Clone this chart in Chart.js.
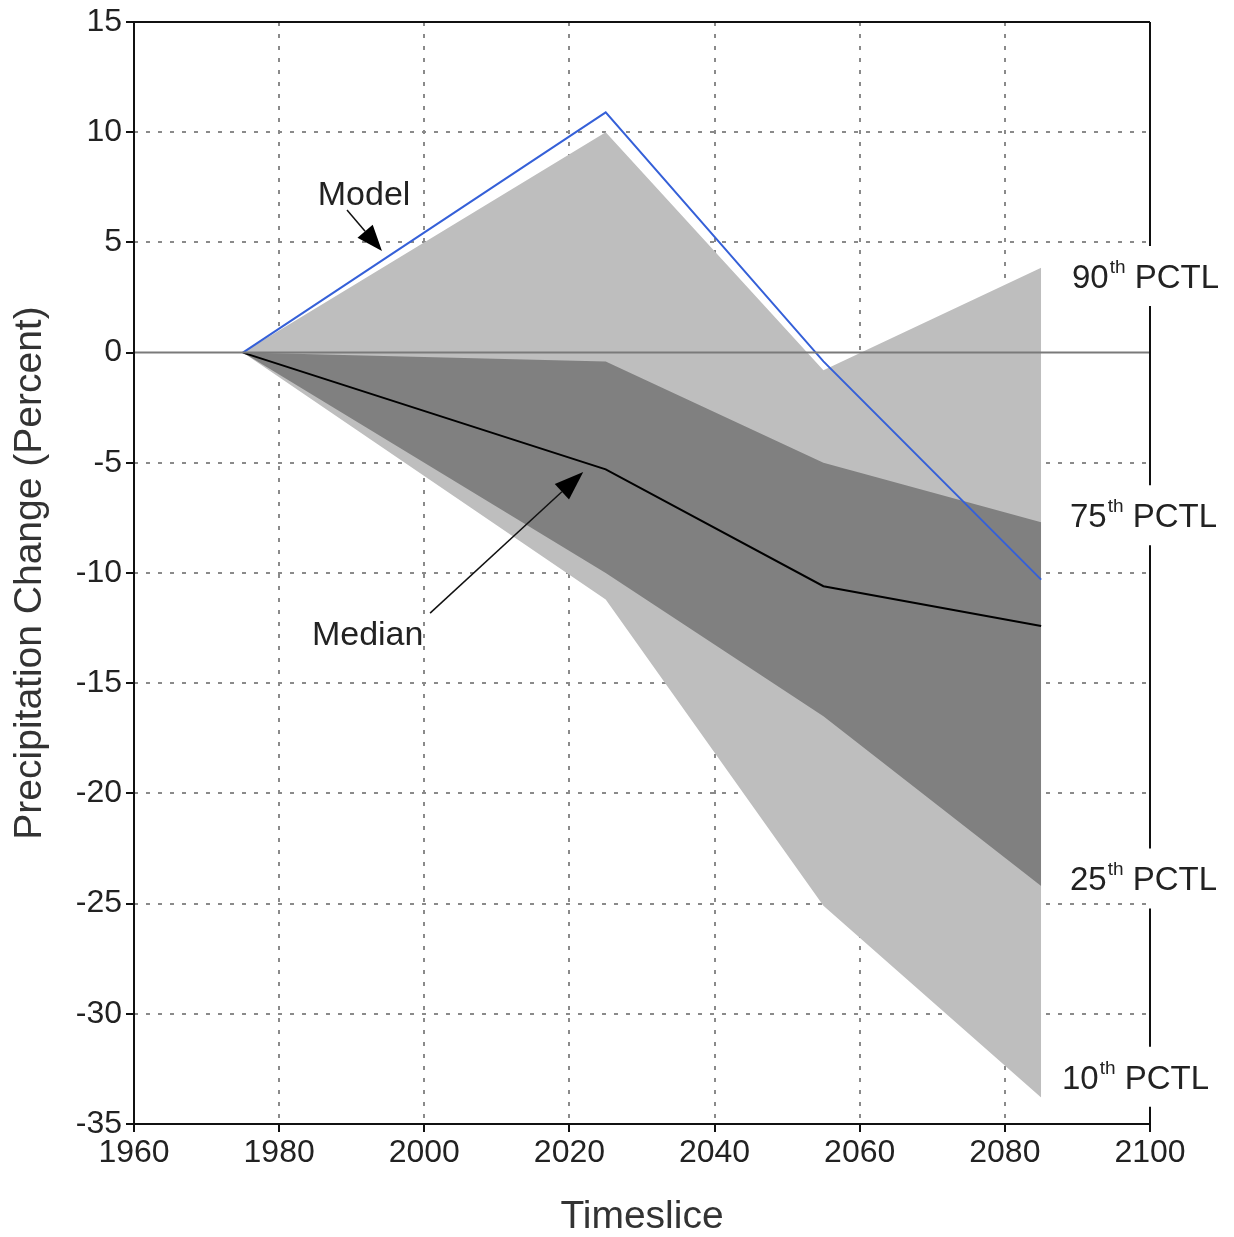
<!DOCTYPE html>
<html><head><meta charset="utf-8">
<script src="https://cdn.jsdelivr.net/npm/chart.js@4.4.0/dist/chart.umd.min.js"></script>
<style>html,body{margin:0;padding:0;background:#fff}#wrap{width:1234px;height:1237px;position:relative}</style>
</head><body><div id="wrap"><canvas id="c"></canvas></div>
<script>
// ---- data ----
const years  = [1975, 2025, 2055, 2085];
const model  = [0, 10.9, -0.4, -10.3];
const median = [0, -5.3, -10.6, -12.4];
const p90    = [0, 10.0, -0.8, 3.85];
const p75    = [0, -0.4, -5.0, -7.7];
const p25    = [0, -10.0, -16.5, -24.2];
const p10    = [0, -11.2, -25.1, -33.8];
const xTicks = [1960, 1980, 2000, 2020, 2040, 2060, 2080, 2100];
const yTicks = [-35, -30, -25, -20, -15, -10, -5, 0, 5, 10, 15];
const pctlNums = ['90', '75', '25', '10'];
const xTitle = 'Timeslice';
const yTitle = 'Precipitation Change (Percent)';

const pts = arr => years.map((x, i) => ({x, y: arr[i]}));
const TICKFONT = "'Liberation Sans Narrow', 'Liberation Sans', Arial, sans-serif";
const FONT = "'Liberation Sans', Arial, sans-serif";
const LIGHT = '#bebebe', DARK = '#808080';

const deco = {
  id: 'deco',
  afterDatasetsDraw(chart) {
    const {ctx, chartArea: a, scales: {y}} = chart;
    ctx.save();
    ctx.strokeStyle = '#7a7a7a'; ctx.lineWidth = 2;
    const y0 = y.getPixelForValue(0);
    ctx.beginPath(); ctx.moveTo(a.left, y0); ctx.lineTo(a.right, y0); ctx.stroke();
    ctx.restore();
  },
  afterDraw(chart) {
    const {ctx, chartArea: a, scales: {x, y}} = chart;
    ctx.save();
    // borders
    ctx.strokeStyle = '#111'; ctx.lineWidth = 2;
    ctx.beginPath();
    ctx.moveTo(a.left, a.top); ctx.lineTo(a.right, a.top);
    ctx.moveTo(a.left, a.top); ctx.lineTo(a.left, a.bottom);
    ctx.moveTo(a.left, a.bottom); ctx.lineTo(a.right, a.bottom);
    ctx.stroke();

    // right labels
    const baseVals = [2.93, -7.92, -24.4, -33.4];
    const lefts = [a.right - 78, a.right - 80, a.right - 80, a.right - 88];
    const gaps = [];
    ctx.fillStyle = '#222';
    ctx.textBaseline = 'alphabetic';
    ctx.textAlign = 'left';
    pctlNums.forEach((n, i) => {
      const by = y.getPixelForValue(baseVals[i]);
      let cx = lefts[i];
      ctx.font = `33px ${FONT}`;
      ctx.fillText(n, cx, by); cx += ctx.measureText(n).width + 1;
      ctx.font = `19px ${FONT}`;
      ctx.fillText('th', cx, by - 15); cx += ctx.measureText('th').width;
      ctx.font = `33px ${FONT}`;
      ctx.fillText(' PCTL', cx, by);
      gaps.push([by - 42, by + 18]);
    });
    // right border with gaps
    ctx.beginPath();
    let cur = a.top;
    gaps.forEach(g => { ctx.moveTo(a.right, cur); ctx.lineTo(a.right, g[0]); cur = g[1]; });
    ctx.moveTo(a.right, cur); ctx.lineTo(a.right, a.bottom + 1);
    ctx.stroke();

    // annotations
    const arrow = (x1, y1, x2, y2, len, wid) => {
      const p1 = [x.getPixelForValue(x1), y.getPixelForValue(y1)];
      const p2 = [x.getPixelForValue(x2), y.getPixelForValue(y2)];
      const ang = Math.atan2(p2[1] - p1[1], p2[0] - p1[0]);
      const bx = p2[0] - len * Math.cos(ang), by = p2[1] - len * Math.sin(ang);
      ctx.strokeStyle = '#111'; ctx.lineWidth = 1.5;
      ctx.beginPath(); ctx.moveTo(p1[0], p1[1]); ctx.lineTo(bx, by); ctx.stroke();
      ctx.fillStyle = '#000';
      ctx.beginPath();
      ctx.moveTo(p2[0], p2[1]);
      ctx.lineTo(bx + wid / 2 * Math.sin(ang), by - wid / 2 * Math.cos(ang));
      ctx.lineTo(bx - wid / 2 * Math.sin(ang), by + wid / 2 * Math.cos(ang));
      ctx.closePath(); ctx.fill();
    };
    ctx.fillStyle = '#222';
    ctx.font = `34px ${FONT}`;
    ctx.textAlign = 'center';
    ctx.fillText('Model', x.getPixelForValue(1991.7), y.getPixelForValue(6.69));
    ctx.fillText('Median', x.getPixelForValue(1992.2), y.getPixelForValue(-13.27));
    arrow(1989.35, 6.47, 1994.17, 4.61, 26, 20);
    arrow(2000.8, -11.82, 2021.9, -5.42, 29, 21);
    ctx.restore();
  }
};

const gridColor = ctx => {
  const v = ctx.tick ? ctx.tick.value : null;
  if (ctx.scale.axis === 'x') return (v === 1960 || v === 2100) ? 'rgba(0,0,0,0)' : '#8a8a8a';
  return (v === 15 || v === -35 || v === 0) ? 'rgba(0,0,0,0)' : '#8a8a8a';
};

new Chart(document.getElementById('c'), {
  type: 'line',
  data: {
    datasets: [
      {label: 'Model', data: pts(model), borderColor: '#3560d8', borderWidth: 2, fill: false},
      {label: 'Median', data: pts(median), borderColor: '#000', borderWidth: 2, fill: false},
      {label: '75th', data: pts(p75), borderWidth: 0, borderColor: DARK, backgroundColor: DARK, fill: '+1'},
      {label: '25th', data: pts(p25), borderWidth: 0, borderColor: DARK, fill: false},
      {label: '90th', data: pts(p90), borderWidth: 0, borderColor: LIGHT, backgroundColor: LIGHT, fill: '+1'},
      {label: '10th', data: pts(p10), borderWidth: 0, borderColor: LIGHT, fill: false}
    ]
  },
  options: {
    responsive: true, maintainAspectRatio: false, animation: false,
    layout: {padding: {top: 22, right: 84, left: 0, bottom: 0}},
    elements: {point: {radius: 0}, line: {tension: 0}},
    plugins: {legend: {display: false}, tooltip: {enabled: false}},
    scales: {
      x: {
        type: 'linear', min: 1960, max: 2100, z: 1,
        afterBuildTicks: s => { s.ticks = xTicks.map(v => ({value: v})); },
        afterFit: s => { s.height = 113; },
        ticks: {font: {family: TICKFONT, size: 32, lineHeight: 1}, color: '#222', padding: 5, maxRotation: 0, autoSkip: false,
                callback: v => String(v)},
        grid: {color: gridColor, lineWidth: 2, tickLength: 8, tickColor: '#111', tickWidth: 2, tickBorderDash: []},
        border: {display: false, dash: [4, 8]},
        title: {display: true, text: xTitle, font: {family: FONT, size: 39, lineHeight: 1}, color: '#333', padding: {top: 0, bottom: 0}}
      },
      y: {
        min: -35, max: 15, z: 1,
        afterBuildTicks: s => { s.ticks = yTicks.map(v => ({value: v})); },
        afterFit: s => { s.width = 134; },
        ticks: {font: {family: TICKFONT, size: 32, lineHeight: 1}, color: '#222', padding: 4, autoSkip: false,
                callback: v => String(v)},
        grid: {color: gridColor, lineWidth: 2, tickLength: 8, tickColor: '#111', tickWidth: 2, tickBorderDash: []},
        border: {display: false, dash: [4, 8]},
        title: {display: true, text: yTitle, font: {family: FONT, size: 39, lineHeight: 1.2}, color: '#333', padding: {top: 7, bottom: 0}}
      }
    }
  },
  plugins: [deco]
});
</script></body></html>
